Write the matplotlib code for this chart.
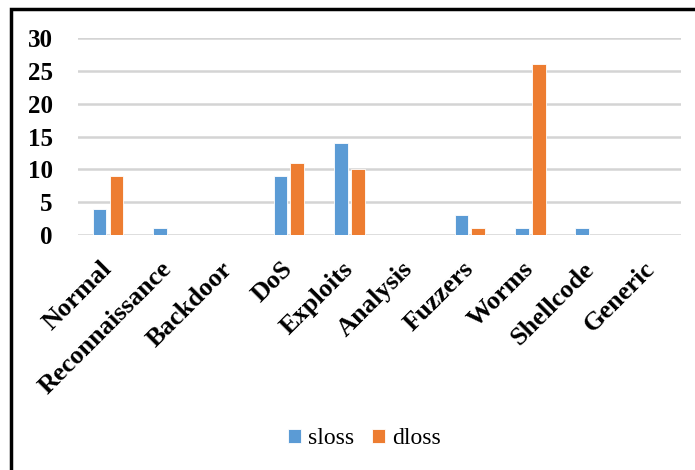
import numpy as np
import matplotlib.pyplot as plt
from matplotlib.patches import Rectangle

# per-class loss counts
categories = ["Normal", "Reconnaissance", "Backdoor", "DoS", "Exploits",
              "Analysis", "Fuzzers", "Worms", "Shellcode", "Generic"]
sloss = [4, 1, 0, 9, 14, 0, 3, 1, 1, 0]
dloss = [9, 0, 0, 11, 10, 0, 1, 26, 0, 0]
yticks = [0, 5, 10, 15, 20, 25, 30]

plt.rcParams["font.family"] = ["Liberation Serif", "DejaVu Serif"]

fig = plt.figure(figsize=(6.95, 4.7), dpi=100)
ax = fig.add_axes([0.112, 0.5, 0.868, 0.419])

x = np.arange(len(categories))
w = 0.23
gap = 0.05
ax.bar(x - w / 2 - gap / 2, sloss, w, color="#5B9BD5", edgecolor="white",
       linewidth=0.6, label="sloss", zorder=3)
ax.bar(x + w / 2 + gap / 2, dloss, w, color="#ED7D31", edgecolor="white",
       linewidth=0.6, label="dloss", zorder=3)

ax.set_xlim(-0.5, len(categories) - 0.5)
ax.set_ylim(0, 30)
ax.set_yticks(yticks)
ax.set_yticklabels([str(t) for t in yticks], fontsize=18, fontweight="bold")
ax.grid(axis="y", color="#d4d4d4", linewidth=1.8, zorder=0)
ax.set_axisbelow(True)
for s in ax.spines.values():
    s.set_visible(False)
ax.tick_params(axis="y", length=0, pad=18)
ax.tick_params(axis="x", length=0, pad=22)

ax.set_xticks(x)
ax.set_xticklabels(categories, rotation=45, ha="right", va="center",
                   rotation_mode="anchor", fontsize=19, fontweight="bold")

ax.legend(loc="center", bbox_to_anchor=(0.524, 0.066),
          bbox_transform=fig.transFigure, ncol=2, frameon=False,
          fontsize=17, handlelength=0.55, handleheight=0.55,
          handletextpad=0.3, columnspacing=0.75)

# outer frame, open on the right and bottom
fig.patches.append(Rectangle((11 / 695, -0.2), 1.2, 1 - 9 / 470 + 0.2,
                             transform=fig.transFigure, fill=False,
                             edgecolor="black", linewidth=2.5))

fig.savefig("out.png", dpi=100)
